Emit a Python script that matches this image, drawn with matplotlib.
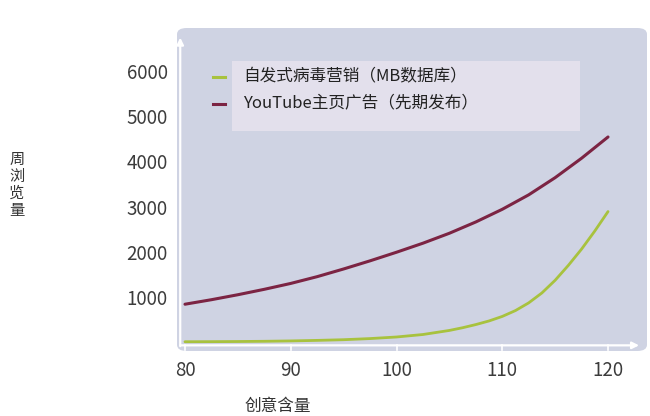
import matplotlib.pyplot as plt
from matplotlib.patches import FancyBboxPatch, Rectangle
from matplotlib.lines import Line2D

plt.rcParams['font.family'] = ['Noto Sans CJK SC', 'DejaVu Sans']

# creativity level on x, weekly views on y
viral_x = [80, 82.5, 85, 87.5, 90, 92.5, 95, 97.5, 100, 102.5,
           105, 106.25, 107.5, 108.75, 110, 111.25, 112.5, 113.75,
           115, 116.25, 117.5, 118.75, 120]
viral_views = [10, 12, 15, 20, 28, 40, 55, 80, 115, 170,
               260, 320, 390, 470, 570, 700, 870, 1090,
               1370, 1700, 2060, 2460, 2890]
youtube_x = [80, 82.5, 85, 87.5, 90, 92.5, 95, 97.5, 100,
             102.5, 105, 107.5, 110, 112.5, 115, 117.5, 120]
youtube_views = [840, 940, 1050, 1170, 1300, 1450, 1620, 1800, 1990,
                 2190, 2410, 2660, 2940, 3260, 3640, 4070, 4540]

series_names = ['自发式病毒营销（MB数据库）', 'YouTube主页广告（先期发布）']
x_ticks = [80, 90, 100, 110, 120]
y_ticks = [1000, 2000, 3000, 4000, 5000, 6000]

W, H = 650, 416
fig = plt.figure(figsize=(W / 100, H / 100), dpi=100)


def px(x, y):
    return x / W, 1 - y / H


# rounded panel behind the plot
panel = FancyBboxPatch(px(177, 351), 470 / W, 323 / H,
                       boxstyle='round,pad=0,rounding_size=0.015',
                       transform=fig.transFigure, facecolor='#cfd3e3',
                       edgecolor='none', zorder=-1)
fig.patches.append(panel)

l, b = px(176, 352)
r, t = px(648, 27)
ax = fig.add_axes([l, b, r - l, t - b])
ax.set_zorder(1)
ax.patch.set_visible(False)
for s in ax.spines.values():
    s.set_visible(False)

ax.set_xlim(79.15, 123.78)
ax.set_ylim(-217, 6973)

green = '#a8c23e'
red = '#7c2443'
ax.plot(viral_x, viral_views, color=green, lw=2.0, zorder=3,
        solid_capstyle='round', solid_joinstyle='round')
ax.plot(youtube_x, youtube_views, color=red, lw=2.2, zorder=3,
        solid_capstyle='round', solid_joinstyle='round')

# white arrowed axes
ax.annotate('', xy=(123.2, -70), xytext=(79.3, -70),
            arrowprops=dict(arrowstyle='-|>', color='white', lw=1.6,
                            mutation_scale=10), zorder=2)
ax.annotate('', xy=(79.55, 6800), xytext=(79.55, -150),
            arrowprops=dict(arrowstyle='-|>', color='white', lw=1.6,
                            mutation_scale=10), zorder=2)
for xt in x_ticks:
    ax.plot([xt, xt], [-70, -170], color='white', lw=1.2, zorder=2,
            clip_on=False)

ax.set_xticks(x_ticks)
ax.set_yticks(y_ticks)
ax.tick_params(length=0, labelsize=13.5, colors='#3c3c3c')
ax.tick_params(axis='x', pad=6)
ax.tick_params(axis='y', pad=6)

# legend box
fig.patches.append(Rectangle(px(232, 131), 348 / W, 70 / H,
                             transform=fig.transFigure,
                             facecolor='#e3e0ec', edgecolor='none', zorder=2))
for (yy, c, name) in [(77, green, series_names[0]), (104, red, series_names[1])]:
    x0, y0 = px(213, yy)
    x1, _ = px(225, yy)
    fig.lines.append(Line2D([x0, x1], [y0, y0], transform=fig.transFigure,
                            color=c, lw=2.2, zorder=3))
    fig.text(*px(243, yy), name, fontsize=12, color='#222222',
             va='center', ha='left', zorder=3)

fig.text(*px(17, 185), '\n'.join('周浏览量'), fontsize=11, color='#333333',
         ha='center', va='center', linespacing=1.0)
fig.text(*px(245, 398), '创意含量', fontsize=12, color='#333333',
         ha='left', va='top')

fig.savefig('out.png', dpi=100)
